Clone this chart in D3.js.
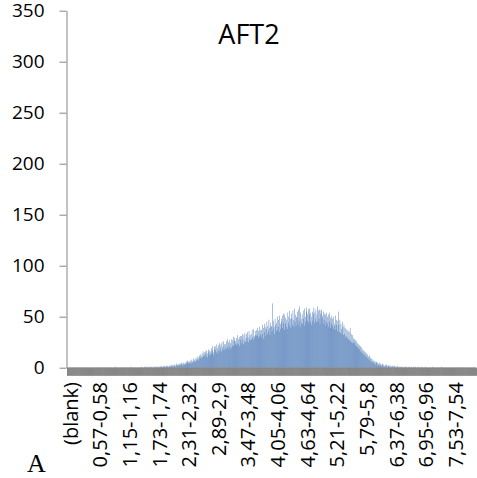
<!DOCTYPE html>
<html>
<head>
<meta charset="utf-8">
<script src="https://cdn.jsdelivr.net/npm/d3@7"></script>
<style>
  html, body { margin: 0; padding: 0; background: #fff; }
  svg { display: block; }
</style>
</head>
<body>
<div id="chart"></div>
<script>
// ---- DATA ----
const title = "AFT2";
const panelLetter = "A";
const yTicks = [0, 50, 100, 150, 200, 250, 300, 350];
const tickLabels = ["(blank)", "0,57-0,58", "1,15-1,16", "1,73-1,74", "2,31-2,32", "2,89-2,9",
  "3,47-3,48", "4,05-4,06", "4,63-4,64", "5,21-5,22", "5,79-5,8", "6,37-6,38", "6,95-6,96", "7,53-7,54"];
// one category per 0,01 bin, first is "(blank)"
const binCount = 800;
const categories = ["(blank)"].concat(d3.range(binCount).map(k =>
  (String(k / 100) + "-" + String((k + 1) / 100)).replace(/\./g, ",")));
const counts = [0,
  0,0,0,0,0,0,0,0,0,
  0,0,0,0,0,0,0,0,0,0,
  0,0,0,0,0,0,0,0,0,0,
  0,0,0,0,0,0,0,0,0,0,
  0,0,0,0,0,0,0,0,0,0,
  0,0,0,0,0,0,0,0,0,0,
  0,0,0,0,0,0,0,0,0,0,
  0,0,0,0,0,0,0,0,0,0,
  0,0,0,0,0,0,0,0,0,0,
  0,0,0,0,0,1,0,0,0,0,
  0,0,0,0,0,0,0,0,0,0,
  0,0,0,0,0,0,0,0,0,0,
  0,0,0,0,0,1,0,0,0,0,
  0,0,0,0,0,0,0,0,0,0,
  0,0,0,0,0,1,0,0,0,0,
  0,1,0,0,1,0,0,1,0,0,
  1,0,0,1,0,1,0,0,1,0,
  0,1,1,0,0,1,0,1,0,1,
  1,0,1,1,0,2,1,0,1,1,
  1,2,0,1,2,1,1,2,1,0,
  2,1,2,1,3,1,2,2,1,3,
  2,3,1,2,4,2,3,2,3,4,
  3,2,4,3,5,3,4,2,5,3,
  4,5,3,6,4,5,7,4,6,5,
  6,4,7,5,8,6,5,9,7,6,
  8,6,9,7,10,8,11,7,9,12,
  10,13,9,11,14,10,16,12,11,15,
  13,16,11,17,14,10,18,15,12,17,
  16,13,19,14,17,21,15,12,21,18,
  17,21,15,23,19,14,22,17,24,16,
  20,23,16,25,18,21,26,17,23,19,
  23,18,26,20,28,19,25,21,27,18,
  24,28,20,27,22,30,21,26,29,23,
  26,22,29,24,32,23,28,30,21,31,
  27,31,24,33,28,23,32,26,34,25,
  29,33,26,35,30,25,36,28,32,27,
  33,28,37,30,27,38,31,29,36,32,
  31,37,32,39,29,36,40,31,37,33,
  37,30,42,33,39,28,43,35,40,31,
  38,45,33,41,36,47,39,32,44,40,
  41,35,63,38,46,40,33,48,42,36,
  44,37,50,40,47,35,51,43,38,48,
  45,51,39,53,44,37,52,43,49,40,
  47,38,54,44,50,56,41,48,39,53,
  48,42,56,47,40,58,45,52,41,50,
  49,55,42,57,46,60,40,54,48,44,
  52,43,56,48,41,58,50,45,55,59,
  53,46,57,44,52,58,45,54,42,50,
  55,46,53,59,44,54,48,57,45,52,
  60,45,56,48,57,43,53,57,56,49,
  51,43,55,47,53,41,52,45,54,43,
  50,40,52,45,54,39,49,43,51,41,
  48,38,50,43,41,51,37,47,42,36,
  46,55,42,35,47,34,43,38,33,45,
  40,32,42,33,39,30,38,31,37,29,
  36,28,35,27,39,26,33,25,32,24,
  29,25,28,24,27,22,26,21,24,20,
  23,19,22,18,21,16,20,15,18,14,
  17,13,16,12,15,11,14,10,13,9,
  11,8,12,7,10,6,9,5,8,6,
  6,7,4,6,3,5,6,2,5,3,
  4,2,5,2,4,3,1,4,3,1,
  3,1,2,3,1,2,3,0,2,2,
  2,1,2,0,2,1,0,2,1,1,
  1,2,0,1,0,1,2,0,0,1,
  1,0,1,0,0,1,0,1,0,0,
  1,0,0,1,0,1,0,0,1,0,
  0,1,0,0,1,0,0,0,1,0,
  0,0,1,0,0,0,0,1,0,0,
  0,0,0,0,1,0,0,0,0,0,
  0,1,0,0,0,0,0,0,0,0,
  0,0,0,0,0,0,1,0,0,0,
  0,0,0,0,0,0,0,0,0,0,
  0,0,0,1,0,0,0,0,0,0,
  0,0,0,0,0,0,0,0,0,0,
  0,0,0,0,0,0,0,0,0,0,
  0,0,0,0,0,0,0,0,0,0,
  0,0,0,0,0,0,0,0,0,0,
  0,0,0,0,0,0,0,0,0,0,
  0,0,0,0,0,0,0,0,0,0,
  0
];

// ---- CHART ----
const W = 477, H = 478;
const plot = { left: 66.5, right: 476, top: 10.7, bottom: 367.7 };
const svg = d3.select("#chart").append("svg").attr("width", W).attr("height", H);

const x = d3.scaleBand().domain(categories).range([67, plot.right]).paddingInner(0.15).paddingOuter(0.1);
const y = d3.scaleLinear().domain([0, 350]).range([plot.bottom, plot.top]);

const data = categories.map((c, i) => ({ c, v: counts[i] }));

svg.append("g").selectAll("rect").data(data).join("rect")
  .attr("x", d => x(d.c))
  .attr("width", x.bandwidth())
  .attr("y", d => y(d.v))
  .attr("height", d => y(0) - y(d.v))
  .attr("fill", "#3A6CAE");

// category tick marks (dense -> grey band)
const xAxis = svg.append("g").attr("transform", `translate(0,${plot.bottom})`)
  .call(d3.axisBottom(x).tickValues(categories).tickSize(8).tickFormat(""));
xAxis.selectAll("line").attr("stroke", "#868686");
xAxis.select(".domain").attr("stroke", "#868686");

// category labels
const labelIdx = tickLabels.map(t => categories.indexOf(t));
svg.append("g").selectAll("text").data(labelIdx).join("text")
  .attr("transform", i => `translate(${x(categories[i]) + x.bandwidth() / 2 + 3.5},382) rotate(-90)`)
  .attr("text-anchor", "end")
  .attr("dy", "0.35em")
  .attr("font-family", "'Open Sans', sans-serif")
  .attr("font-size", 20)
  .attr("fill", "#000")
  .text(i => categories[i]);

// y axis
const yAxis = svg.append("g").attr("transform", `translate(${plot.left},0)`)
  .call(d3.axisLeft(y).tickValues(yTicks).tickSize(7).tickPadding(15).tickSizeOuter(0));
yAxis.selectAll("line").attr("stroke", "#868686");
yAxis.select(".domain").attr("stroke", "#868686");
yAxis.selectAll("text")
  .attr("font-family", "'Open Sans', sans-serif")
  .attr("font-size", 19)
  .attr("fill", "#000");

// title
svg.append("text").attr("x", 249).attr("y", 44).attr("text-anchor", "middle")
  .attr("font-family", "'Open Sans', sans-serif").attr("font-size", 27).attr("fill", "#000")
  .text(title);

// panel letter
svg.append("text").attr("x", 27).attr("y", 472)
  .attr("font-family", "'Liberation Serif', serif").attr("font-size", 26).attr("fill", "#000")
  .text(panelLetter);
</script>
</body>
</html>
